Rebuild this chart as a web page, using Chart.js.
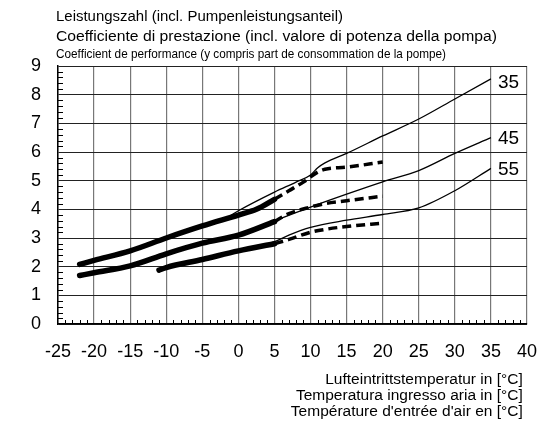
<!DOCTYPE html>
<html>
<head>
<meta charset="utf-8">
<script src="https://cdn.jsdelivr.net/npm/chart.js@4.4.0/dist/chart.umd.min.js"></script>
<style>
  html, body { margin: 0; padding: 0; background: #fff; }
  #wrap { width: 540px; height: 422px; }
</style>
</head>
<body>
<div id="wrap"><canvas id="myChart" width="540" height="422"></canvas></div>
<script>
// Vorlauftemperaturen (Kurvenbeschriftung)
const flowTemps = ['35', '45', '55'];

// duenne Linien (ganzer Bereich)
const thin35T = [-22, -20, -15, -10, -5, -2, 0, 5, 8, 10, 11, 12, 15, 20, 25, 30, 35];
const thin35 = [2.08, 2.22, 2.55, 3.0, 3.42, 3.65, 3.95, 4.6, 4.95, 5.2, 5.45, 5.62, 5.95, 6.56, 7.15, 7.85, 8.55];
const thin45T = [-22, -20, -15, -10, -5, 0, 5, 10, 15, 20, 25, 30, 35];
const thin45 = [1.7, 1.82, 2.07, 2.47, 2.82, 3.1, 3.6, 4.08, 4.53, 4.96, 5.35, 5.95, 6.5];
const thin55T = [-11, -10, -5, 0, 5, 7, 10, 15, 20, 25, 30, 35];
const thin55 = [1.88, 1.98, 2.25, 2.55, 2.87, 3.1, 3.37, 3.62, 3.82, 4.05, 4.65, 5.43];

// dicke Linien
const thick35T = [-22, -20, -15, -10, -5, 0, 2.5, 5];
const thick35 = [2.08, 2.22, 2.55, 3.0, 3.42, 3.8, 4.0, 4.35];
const thick45T = [-22, -20, -15, -10, -5, 0, 5];
const thick45 = [1.69, 1.79, 2.03, 2.45, 2.82, 3.1, 3.57];
const thick55T = [-11, -10, -5, 0, 5];
const thick55 = [1.88, 1.97, 2.25, 2.55, 2.8];

// gestrichelt
const dash35T = [5, 7, 9, 11, 12, 15, 20];
const dash35 = [4.35, 4.65, 4.95, 5.3, 5.4, 5.47, 5.65];
const dash45T = [5, 7, 10, 12, 15, 20];
const dash45 = [3.57, 3.85, 4.08, 4.2, 4.3, 4.46];
const dash55T = [5, 7, 10, 12, 15, 20];
const dash55 = [2.8, 2.95, 3.2, 3.3, 3.4, 3.52];

const titleLines = [
  'Leistungszahl (incl. Pumpenleistungsanteil)',
  'Coefficiente di prestazione (incl. valore di potenza della pompa)',
  'Coefficient de performance (y compris part de consommation de la pompe)'
];
const xTitle = [
  'Lufteintrittstemperatur in [°C] ',
  'Temperatura ingresso aria in [°C] ',
  "Température d'entrée d'air en [°C] "
];

const pts = (xs, ys) => xs.map((x, i) => ({x: x, y: ys[i]}));

function thinLine(xs, ys, lbl) {
  return { data: pts(xs, ys), borderColor: '#000', borderWidth: 1.3, pointRadius: 0,
           cubicInterpolationMode: 'monotone', fill: false, curveLabel: lbl };
}
function thickLine(xs, ys) {
  return { data: pts(xs, ys), borderColor: '#000', borderWidth: 5.5, pointRadius: 0,
           borderCapStyle: 'round', cubicInterpolationMode: 'monotone', fill: false };
}
function dashLine(xs, ys) {
  return { data: pts(xs, ys), borderColor: '#000', borderWidth: 3.5, pointRadius: 0,
           borderDash: [9, 5], cubicInterpolationMode: 'monotone', fill: false };
}

const datasets = [
  thinLine(thin35T, thin35, flowTemps[0]),
  thinLine(thin45T, thin45, flowTemps[1]),
  thinLine(thin55T, thin55, flowTemps[2]),
  thickLine(thick35T, thick35),
  thickLine(thick45T, thick45),
  thickLine(thick55T, thick55),
  dashLine(dash35T, dash35),
  dashLine(dash45T, dash45),
  dashLine(dash55T, dash55)
];

const FONT = '"Liberation Sans", Arial, sans-serif';

// Text auf feste Breite bringen (wie im Original)
function fitText(ctx, txt, x, y, w) {
  const m = ctx.measureText(txt).width;
  ctx.save();
  ctx.translate(x, y);
  ctx.scale(w / m, 1);
  ctx.fillText(txt, 0, 0);
  ctx.restore();
}

// Nebenstriche, Kopftext und Kurvenbeschriftung
const extras = {
  id: 'extras',
  beforeDatasetsDraw(chart) {
    const ctx = chart.ctx;
    const xs = chart.scales.x, ys = chart.scales.y;
    const a = chart.chartArea;
    ctx.save();
    ctx.strokeStyle = '#000';
    ctx.lineWidth = 1;
    for (let t = -24; t < 40; t++) {
      if (t % 5 === 0) continue;
      const px = Math.round(xs.getPixelForValue(t)) + 0.5;
      ctx.beginPath(); ctx.moveTo(px, a.bottom); ctx.lineTo(px, a.bottom - 4); ctx.stroke();
    }
    for (let v = 0.2; v < 9; v += 0.2) {
      if (Math.abs(v - Math.round(v)) < 0.01) continue;
      const py = Math.round(ys.getPixelForValue(v)) + 0.5;
      ctx.beginPath(); ctx.moveTo(a.left, py); ctx.lineTo(a.left + 5, py); ctx.stroke();
    }
    ctx.restore();
  },
  afterDraw(chart) {
    const ctx = chart.ctx;
    ctx.save();
    ctx.fillStyle = '#000';
    ctx.textBaseline = 'middle';
    ctx.textAlign = 'left';
    ctx.font = '14px ' + FONT;
    fitText(ctx, titleLines[0], 56, 17, 287);
    fitText(ctx, titleLines[1], 56, 37, 441);
    ctx.font = '13px ' + FONT;
    fitText(ctx, titleLines[2], 56, 54, 390);
    ctx.font = '19px ' + FONT;
    chart.data.datasets.forEach((ds, i) => {
      if (!ds.curveLabel) return;
      const meta = chart.getDatasetMeta(i);
      const last = meta.data[meta.data.length - 1];
      ctx.fillText(ds.curveLabel, last.x + 7, last.y + (i === 0 ? 4 : 1));
    });
    ctx.restore();
  }
};

new Chart(document.getElementById('myChart').getContext('2d'), {
  type: 'line',
  data: { datasets: datasets },
  options: {
    responsive: false,
    animation: false,
    layout: { autoPadding: false, padding: { left: 0, right: 13, top: 66, bottom: 0 } },
    plugins: { legend: { display: false }, tooltip: { enabled: false } },
    scales: {
      x: {
        type: 'linear', min: -25, max: 40,
        afterFit: s => { s.height = 98; },
        ticks: { stepSize: 5, color: '#000', padding: 0, maxRotation: 0,
                 font: { family: FONT, size: 18 } },
        grid: { color: '#777', lineWidth: 1.2, drawTicks: true, tickLength: 17, tickColor: 'rgba(0,0,0,0)' },
        border: { color: '#000', width: 1.5 },
        title: { display: true, text: xTitle, align: 'end', color: '#000',
                 font: { family: FONT, size: 15.5, lineHeight: 1.04 }, padding: { top: 0, bottom: 2 } }
      },
      y: {
        min: 0, max: 9,
        afterFit: s => { s.width = 58; },
        ticks: { stepSize: 1, color: '#000', padding: 0, font: { family: FONT, size: 18 } },
        grid: { color: '#222', lineWidth: 1, drawTicks: true, tickLength: 17, tickColor: 'rgba(0,0,0,0)' },
        border: { color: '#000', width: 1.5 }
      }
    }
  },
  plugins: [extras]
});
</script>
</body>
</html>
